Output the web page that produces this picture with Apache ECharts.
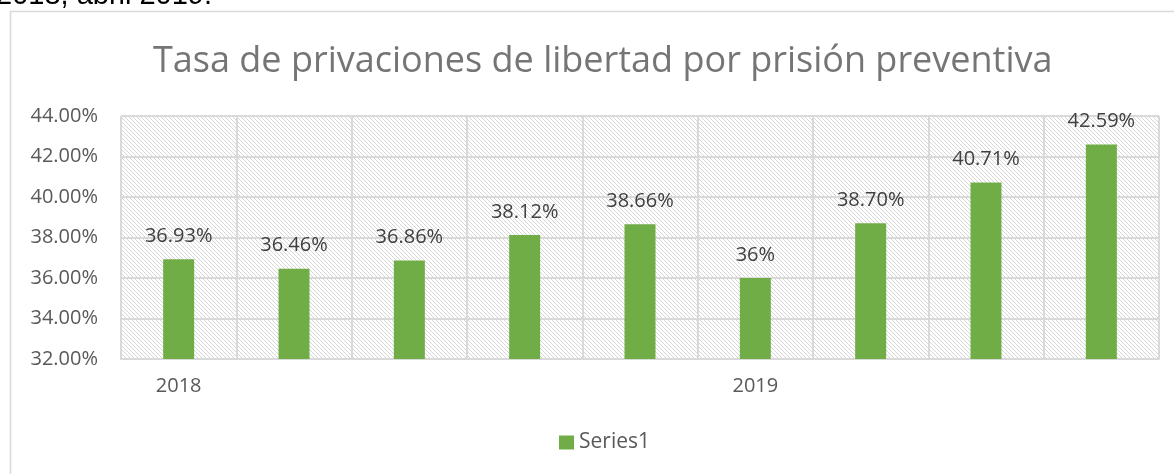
<!DOCTYPE html>
<html>
<head>
<meta charset="utf-8">
<script src="https://cdn.jsdelivr.net/npm/echarts@6/dist/echarts.min.js"></script>
<style>
  html, body { margin: 0; padding: 0; background: #fff; }
  #chart { width: 1174px; height: 474px; }
</style>
</head>
<body>
<div id="chart"></div>
<script>
// ── Data ──────────────────────────────────────────────────────────────────────
const categories = ['2018', '', '', '', '', '2019', '', '', ''];
const values = [36.93, 36.46, 36.86, 38.12, 38.66, 36, 38.70, 40.71, 42.59];
const yMin = 32, yMax = 44, yStep = 2;

// ── Hatched plot background (light diagonal lines, like the Excel pattern) ────
function hatch() {
  const c = document.createElement('canvas');
  c.width = 4; c.height = 4;
  const ctx = c.getContext('2d');
  ctx.fillStyle = '#fff';
  ctx.fillRect(0, 0, 4, 4);
  ctx.fillStyle = '#d6d6d6';
  for (let i = 0; i < 4; i++) ctx.fillRect(i, i, 1, 1);
  return c;
}

const fmt = v => (Number.isInteger(v) ? v : v.toFixed(2)) + '%';
const font = '"Open Sans", sans-serif';

const chart = echarts.init(document.getElementById('chart'), null, { renderer: 'canvas' });
chart.setOption({
  animation: false,
  backgroundColor: '#fff',
  title: {
    text: 'Tasa de privaciones de libertad por prisión preventiva',
    left: 148,
    top: 39,
    textStyle: { color: '#757575', fontSize: 36, fontWeight: 400, fontFamily: font },
  },
  graphic: [
    // chart frame (only left/top edges visible in the crop)
    { type: 'polyline', shape: { points: [[10.5, 480], [10.5, 11.5], [1180, 11.5]] },
      style: { stroke: '#d9d9d9', lineWidth: 1.5, fill: null } },
    // cut-off caption text above the chart
    { type: 'text', x: -4, y: -4,
      style: { text: '2018, abril 2019.', fill: '#000', verticalAlign: 'middle',
               font: '29px "Liberation Sans", Arial' } },
  ],
  legend: {
    bottom: 16,
    left: 554,
    itemWidth: 15,
    itemHeight: 14,
    itemGap: 5,
    icon: 'rect',
    textStyle: { color: '#595959', fontSize: 21, fontFamily: font },
  },
  grid: {
    left: 121, right: 15, top: 116, bottom: 115,
    show: true,
    borderWidth: 0,
    backgroundColor: { image: hatch(), repeat: 'repeat' },
  },
  xAxis: {
    type: 'category',
    data: categories,
    axisTick: { show: false },
    axisLine: { lineStyle: { color: '#d9d9d9', width: 2 } },
    axisLabel: { interval: 0, color: '#595959', fontSize: 20, fontFamily: font, margin: 17 },
    splitLine: { show: true, interval: 0, lineStyle: { color: '#d9d9d9', width: 2 } },
  },
  yAxis: {
    type: 'value',
    min: yMin, max: yMax, interval: yStep,
    axisLine: { show: false },
    axisTick: { show: false },
    axisLabel: { formatter: v => v.toFixed(2) + '%', color: '#595959', fontSize: 20, fontFamily: font, margin: 23 },
    splitLine: { lineStyle: { color: '#d9d9d9', width: 2 } },
  },
  series: [{
    name: 'Series1',
    type: 'bar',
    data: values,
    barWidth: 31,
    itemStyle: { color: '#70AD47' },
    label: {
      show: true,
      position: 'top',
      distance: 13,
      formatter: p => fmt(p.value),
      color: '#404040',
      fontSize: 20,
      fontFamily: font,
    },
  }],
});
</script>
</body>
</html>
